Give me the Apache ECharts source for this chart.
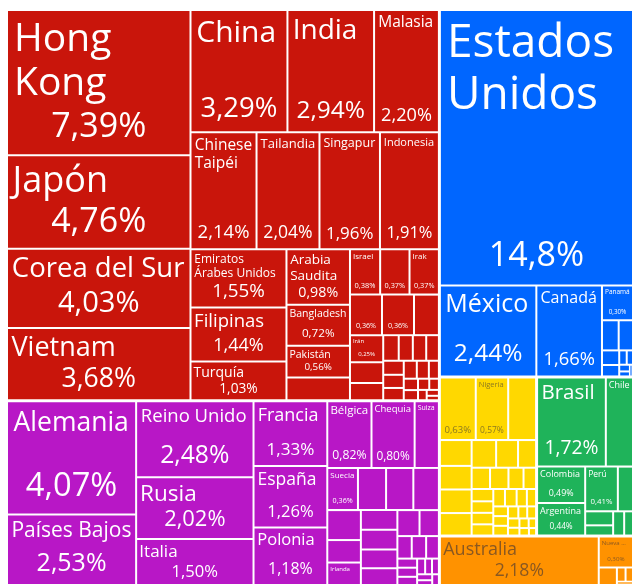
<!DOCTYPE html>
<html><head><meta charset="utf-8">
<script src="https://cdn.jsdelivr.net/npm/echarts@6.0.0/dist/echarts.min.js"></script>
<style>html,body{margin:0;padding:0;background:#fff;}#chart{width:640px;height:587px;}</style>
</head><body><div id="chart"></div>
<script>
// ---- data (percent of total exports) ----
const groupNames = ['Asia', 'Europa', 'Norteamérica', 'África', 'Sudamérica', 'Oceanía'];

const asiaNames = ['Hong Kong','Japón','Corea del Sur','Vietnam','China','India','Malasia','Chinese Taipéi','Tailandia','Singapur','Indonesia','Emiratos Árabes Unidos','Filipinas','Turquía','Arabia Saudita','Bangladesh','Pakistán',null,'Israel','Irak','','','',null,'Irán'];
const asiaValues = [7.39,4.76,4.03,3.68,3.29,2.94,2.20,2.14,2.04,1.96,1.91,1.55,1.44,1.03,0.98,0.72,0.56,0.40,0.38,0.37,0.37,0.36,0.36,0.28,0.25,0.19,0.16,0.11,0.10,0.095,0.09,0.08,0.075,0.07,0.065,0.06,0.05,0.045,0.04,0.035,0.03,0.025,0.02,0.015];

const europeNames = ['Alemania','Países Bajos','Reino Unido','Rusia','Italia','Francia','España','Polonia','Bélgica','Chequia','Suiza','Suecia',null,null,null,null,'Irlanda'];
const europeValues = [4.07,2.53,2.48,2.02,1.50,1.33,1.26,1.18,0.82,0.80,0.45,0.36,0.33,0.32,0.30,0.28,0.21,0.21,0.20,0.20,0.19,0.17,0.16,0.14,0.09,0.09,0.08,0.05,0.05,0.045,0.035,0.03,0.03,0.025,0.02,0.02];

const northAmericaNames = ['Estados Unidos','México','Canadá','Panamá'];
const northAmericaValues = [14.8,2.44,1.66,0.30,0.14,0.12,0.07,0.055,0.03,0.025,0.02,0.015,0.01];

const africaNames = ['','Nigeria'];
const africaValues = [0.63,0.57,0.49,0.23,0.21,0.21,0.20,0.19,0.17,0.14,0.11,0.11,0.09,0.075,0.075,0.07,0.07,0.068,0.057,0.057,0.05,0.045,0.04,0.04,0.04,0.035,0.03,0.03,0.03,0.025,0.025,0.02,0.02,0.015];

const southAmericaNames = ['Brasil','Chile','Colombia','Argentina','Perú'];
const southAmericaValues = [1.72,0.68,0.49,0.44,0.41,0.19,0.11,0.08,0.075,0.06];

const oceaniaNames = ['Australia','Nueva Zelanda'];
const oceaniaValues = [2.18,0.30,0.09,0.035,0.03,0.015];

// countries whose box shows only the name
const nameOnly = ['Suiza','Irlanda','Chile'];

// ---- styles ----
const groupCountryNames = [asiaNames, europeNames, northAmericaNames, africaNames, southAmericaNames, oceaniaNames];
const groupValues = [asiaValues, europeValues, northAmericaValues, africaValues, southAmericaValues, oceaniaValues];
const groupColors = ['#C9150B', '#B817C6', '#0066FF', '#FFD800', '#1FB35A', '#FF9200'];
const groupTextColors = ['#fff', '#fff', '#fff', 'rgba(40,40,60,0.55)', '#fff', 'rgba(40,40,60,0.55)'];
const FONT = '"Open Sans", sans-serif';
const MIN_FS = 6;

const ctx = document.createElement('canvas').getContext('2d');
function textW(t, s) { ctx.font = s + 'px "Open Sans"'; return ctx.measureText(t).width; }
function wrapWords(t, s, maxW) {
  if (s < 8) return [t];
  const words = t.split(' '); const lines = []; let cur = '';
  words.forEach(w => {
    const cand = cur ? cur + ' ' + w : w;
    if (cur && textW(cand, s) > maxW) { lines.push(cur); cur = w; } else { cur = cand; }
  });
  if (cur) lines.push(cur);
  return lines;
}
function pctText(v) { return (v >= 10 ? v.toFixed(1) : v.toFixed(2)).replace('.', ',') + '%'; }

function fitLabel(w, h, name, pct, showName, showPct, color) {
  const pad = Math.max(2, Math.min(6, Math.min(w, h) * 0.05));
  const aw = w - 2 * pad, ah = h - 2 * pad;
  const root = Math.sqrt(w * h);
  let vfs = 0;
  if (showPct) {
    vfs = Math.min(34, aw * 0.9 / (textW(pct, 100) / 100), 0.3 * root - 3, ah * (showName ? 0.42 : 0.8));
    vfs = Math.max(vfs, MIN_FS);
  }
  const vH = showPct ? vfs * 1.2 : 0;
  let nfs = 0, lines = [];
  if (showName) {
    const start = Math.min(46, 0.3 * root - 2);
    for (let s = Math.floor(start * 2) / 2; s >= MIN_FS; s -= 0.5) {
      const L = wrapWords(name, s, aw);
      if (L.every(l => textW(l, s) <= aw) && L.length * s * 1.15 + vH <= ah) { nfs = s; lines = L; break; }
    }
    if (!nfs) { nfs = MIN_FS; lines = [name]; }
  }
  const nH = lines.length * nfs * 1.15;
  const gap = Math.floor(ah - nH - vH - 1);
  const parts = lines.map(l => '{n|' + l + '}');
  if (showPct) { if (gap >= 1) parts.push('{s| }'); parts.push('{v|' + pct + '}'); }
  return {
    show: true, position: 'insideTopLeft', padding: pad, color: color, overflow: 'truncate',
    formatter: parts.join('\n'),
    rich: {
      n: { fontSize: nfs || MIN_FS, lineHeight: (nfs || MIN_FS) * 1.15, color: color, fontFamily: FONT },
      s: { fontSize: 1, lineHeight: Math.max(gap, 1) },
      v: { fontSize: vfs || MIN_FS, lineHeight: (vfs || MIN_FS) * 1.2, color: color, align: 'center', fontFamily: FONT }
    }
  };
}

function buildData(sizes) {
  return groupNames.map((g, gi) => ({
    name: g,
    itemStyle: { color: groupColors[gi] },
    children: groupValues[gi].map((v, i) => {
      const nm = groupCountryNames[gi][i];
      const key = gi + '_' + i;
      const item = { name: nm || key, value: v, key: key, itemStyle: { color: groupColors[gi] } };
      const showName = !!nm;
      const showPct = nm != null && nameOnly.indexOf(nm) < 0;
      if (sizes && sizes[key] && (showName || showPct)) {
        item.label = fitLabel(sizes[key][0], sizes[key][1], nm || '', pctText(v), showName, showPct, groupTextColors[gi]);
      } else {
        item.label = { show: false };
      }
      return item;
    })
  }));
}

function makeOption(sizes) {
  return {
    animation: false,
    backgroundColor: '#fff',
    series: [{
      type: 'treemap',
      left: 8, top: 11, width: 624, height: 573,
      roam: false, nodeClick: false,
      breadcrumb: { show: false },
      sort: 'desc',
      label: { show: true, position: 'insideTopLeft', fontFamily: FONT },
      upperLabel: { show: false },
      emphasis: { disabled: true },
      itemStyle: { borderColor: '#fff' },
      levels: [
        { itemStyle: { borderWidth: 0, gapWidth: 3, borderColor: '#fff' } },
        { itemStyle: { borderWidth: 0, gapWidth: 2, borderColor: '#fff' } },
        { itemStyle: { borderWidth: 0, gapWidth: 0 } }
      ],
      data: buildData(sizes)
    }]
  };
}

const chart = echarts.init(document.getElementById('chart'), null, { renderer: 'canvas' });
chart.setOption(makeOption(null));

const sizes = {};
try {
  const tree = chart.getModel().getSeriesByIndex(0).getData().tree;
  tree.root.eachNode(node => {
    const key = node.getModel().get('key');
    const l = node.getLayout();
    if (key != null && l) sizes[key] = [l.width, l.height];
  });
} catch (e) { console.error(e); }
chart.setOption(makeOption(sizes), true);
</script>
</body></html>
